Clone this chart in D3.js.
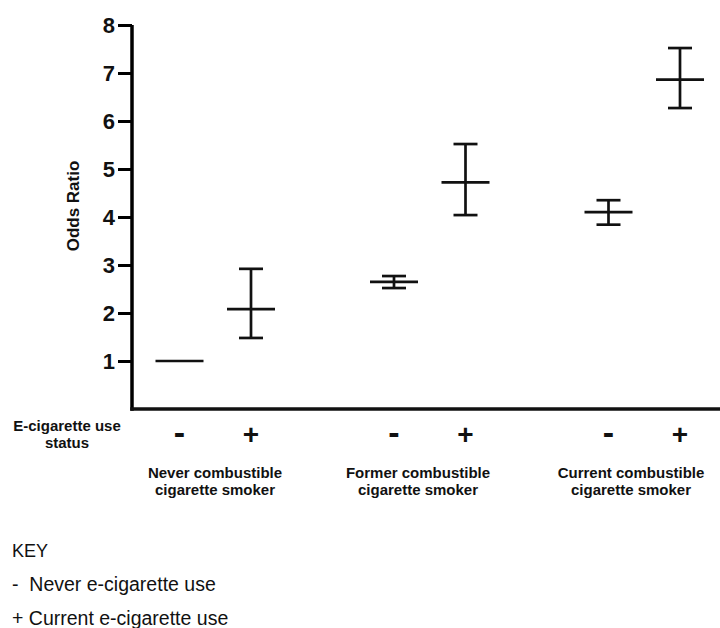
<!DOCTYPE html>
<html>
<head>
<meta charset="utf-8">
<script src="https://cdn.jsdelivr.net/npm/d3@7"></script>
<style>
    body { margin: 0; background: #fff; }
    svg { display: block; font-family: "Liberation Sans", Arial, sans-serif; }
</style>
</head>
<body>
<div id="chart-container"></div>
<script>
// smoking groups and e-cigarette status
const groups = ["Never combustible cigarette smoker", "Former combustible cigarette smoker", "Current combustible cigarette smoker"];
const statuses = ["-", "+"];

// odds ratio with 95% CI, order: group x status
const oddsRatio = [1.0, 2.08, 2.65, 4.72, 4.10, 6.86];
const lowerCI   = [1.0, 1.48, 2.52, 4.04, 3.84, 6.27];
const upperCI   = [1.0, 2.92, 2.77, 5.52, 4.35, 7.52];

const yTicks = [1, 2, 3, 4, 5, 6, 7, 8];
const keyLines = ["KEY", "-  Never e-cigarette use", "+ Current e-cigarette use"];

const width = 720, height = 628;

const data = [];
groups.forEach((g, i) => {
    statuses.forEach((s, j) => {
        const k = i * statuses.length + j;
        data.push({ group: g, status: s, or: oddsRatio[k], lo: lowerCI[k], hi: upperCI[k] });
    });
});

const svg = d3.select("#chart-container")
    .append("svg")
    .attr("width", width)
    .attr("height", height);

// scales
const yScale = d3.scaleLinear().domain([0, 8]).range([409, 25]);
const x0 = d3.scaleBand().domain(groups).range([108, 751.5]);
const x1 = d3.scalePoint().domain(statuses).range([0, x0.bandwidth()]).padding(1);
const xPos = d => x0(d.group) + x1(d.status);
// group captions sit a little left of the group centres in the original
const labelX = d3.scaleOrdinal().domain(groups).range([215, 418, 631]);

const axisX = 132;

// Y axis
const yAxis = svg.append("g")
    .attr("transform", `translate(${axisX},0)`)
    .call(d3.axisLeft(yScale).tickValues(yTicks).tickSize(14).tickPadding(3).tickSizeOuter(0));
yAxis.select(".domain").attr("stroke-width", 3.5).attr("d", `M0,${yScale(8)}V${yScale(0) + 1.75}`);
yAxis.selectAll(".tick line").attr("stroke-width", 3);
yAxis.selectAll(".tick text")
    .style("font-size", "22px")
    .style("font-weight", "bold")
    .style("font-family", "'Liberation Sans', Arial, sans-serif")
    .attr("fill", "#111");

// X axis line (no ticks)
svg.append("line")
    .attr("x1", axisX - 1.75).attr("x2", width)
    .attr("y1", yScale(0)).attr("y2", yScale(0))
    .attr("stroke", "#111").attr("stroke-width", 3.5);

// Y label
svg.append("text")
    .attr("transform", `translate(79,206) rotate(-90)`)
    .attr("text-anchor", "middle")
    .style("font-size", "17px")
    .style("font-weight", "bold")
    .attr("fill", "#111")
    .text("Odds Ratio");

// error bars
const marks = svg.append("g").attr("stroke", "#111").attr("stroke-width", 2.7);
marks.selectAll(".ci")
    .data(data.filter(d => d.hi > d.lo))
    .enter().append("line")
    .attr("x1", xPos).attr("x2", xPos)
    .attr("y1", d => yScale(d.hi)).attr("y2", d => yScale(d.lo));
["hi", "lo"].forEach(key => {
    marks.selectAll(".cap-" + key)
        .data(data.filter(d => d.hi > d.lo))
        .enter().append("line")
        .attr("x1", d => xPos(d) - 12).attr("x2", d => xPos(d) + 12)
        .attr("y1", d => yScale(d[key])).attr("y2", d => yScale(d[key]));
});
marks.selectAll(".mean")
    .data(data)
    .enter().append("line")
    .attr("x1", d => xPos(d) - 24).attr("x2", d => xPos(d) + 24)
    .attr("y1", d => yScale(d.or)).attr("y2", d => yScale(d.or));

// status signs under the axis
svg.selectAll(".status")
    .data(data)
    .enter().append("text")
    .attr("x", xPos)
    .attr("y", 444)
    .attr("text-anchor", "middle")
    .style("font-weight", "bold")
    .style("font-size", d => d.status === "-" ? "34px" : "28px")
    .attr("fill", "#111")
    .text(d => d.status);

// "E-cigarette use status"
svg.append("text")
    .attr("x", 67).attr("y", 431)
    .attr("text-anchor", "middle")
    .style("font-size", "15px").style("font-weight", "bold")
    .attr("fill", "#111")
    .selectAll("tspan")
    .data(["E-cigarette use", "status"])
    .enter().append("tspan")
    .attr("x", 67)
    .attr("dy", (d, i) => i === 0 ? 0 : 17)
    .text(d => d);

// group labels
svg.selectAll(".group-label")
    .data(groups)
    .enter().append("text")
    .attr("text-anchor", "middle")
    .attr("y", 478)
    .style("font-size", "15px").style("font-weight", "bold")
    .attr("fill", "#111")
    .each(function (g) {
        const parts = [g.replace(" cigarette smoker", ""), "cigarette smoker"];
        d3.select(this).selectAll("tspan")
            .data(parts)
            .enter().append("tspan")
            .attr("x", labelX(g))
            .attr("dy", (d, i) => i === 0 ? 0 : 17)
            .text(d => d);
    });

// key
svg.selectAll(".key")
    .data(keyLines)
    .enter().append("text")
    .attr("x", 12)
    .attr("y", (d, i) => 557 + i * 34)
    .attr("xml:space", "preserve")
    .style("white-space", "pre")
    .style("font-size", (d, i) => i === 0 ? "18px" : "19.5px")
    .attr("fill", "#111")
    .text(d => d);
</script>
</body>
</html>
